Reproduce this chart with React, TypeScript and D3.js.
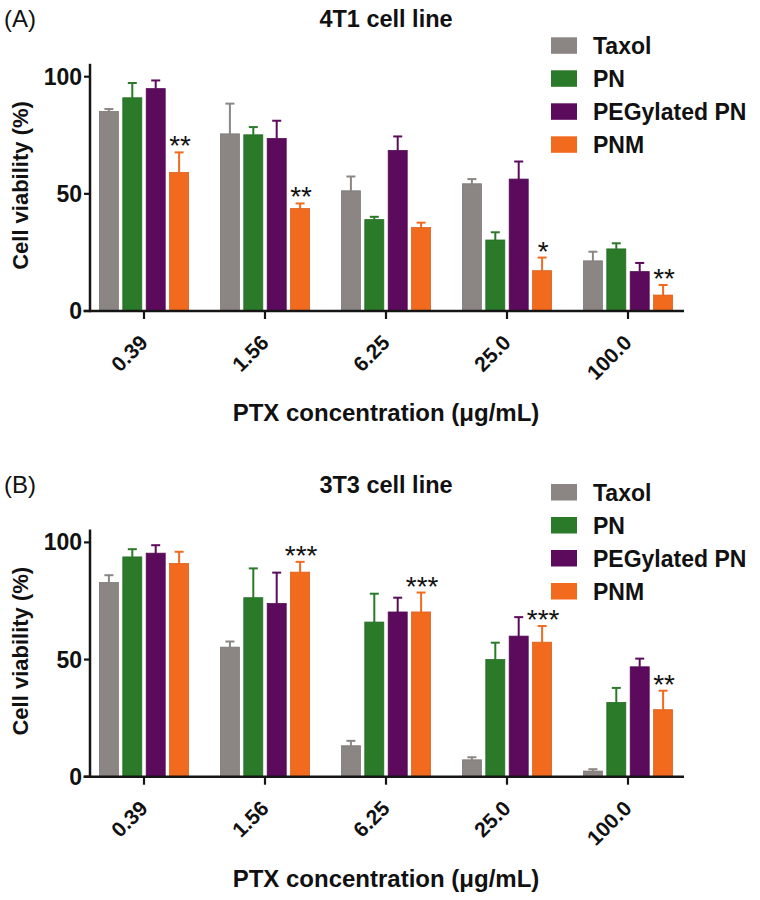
import React from "react";
import * as d3 from "d3";

const concentrations = ["0.39", "1.56", "6.25", "25.0", "100.0"];
const seriesNames = ["Taxol", "PN", "PEGylated PN", "PNM"];
const seriesColors = ["#8b8683", "#2a7a2a", "#5c0a5c", "#f26a1e"];

// 4T1 cell line
const t1Taxol = [85.2, 75.6, 51.3, 54.3, 21.4];
const t1TaxolSd = [1.0, 12.9, 6.1, 2.0, 3.9];
const t1PN = [91.0, 75.2, 39.0, 30.3, 26.5];
const t1PNSd = [6.3, 3.3, 1.2, 3.3, 2.4];
const t1PEG = [94.9, 73.6, 68.5, 56.3, 16.8];
const t1PEGSd = [3.5, 7.6, 6.0, 7.5, 3.7];
const t1PNM = [59.1, 43.7, 35.6, 17.2, 6.8];
const t1PNMSd = [8.6, 2.2, 2.1, 5.6, 4.3];
const t1Sig = ["**", "**", "", "*", "**"];

// 3T3 cell line
const t3Taxol = [82.9, 55.3, 13.2, 7.2, 2.4];
const t3TaxolSd = [3.1, 2.4, 2.1, 1.1, 0.8];
const t3PN = [93.8, 76.4, 66.0, 50.0, 31.7];
const t3PNSd = [3.3, 12.5, 12.1, 7.2, 6.2];
const t3PEG = [95.4, 73.9, 70.3, 60.0, 46.9];
const t3PEGSd = [3.4, 13.2, 6.1, 8.1, 3.5];
const t3PNM = [91.0, 87.3, 70.3, 57.4, 28.6];
const t3PNMSd = [5.0, 4.4, 8.3, 6.9, 8.1];
const t3Sig = ["", "***", "***", "***", "**"];

const yTicks = [0, 50, 100];

const FONT = "'Liberation Sans', Arial, Helvetica, sans-serif";

type PanelProps = {
  oy: number;
  letter: string;
  title: string;
  means: number[][];
  sds: number[][];
  sig: string[];
  legendDy: number;
};

function Panel({ oy, letter, title, means, sds, sig, legendDy }: PanelProps) {
  const y0 = 311 + oy;
  const y100 = 76.7 + oy;
  const y = d3.scaleLinear().domain([0, 100]).range([y0, y100]);
  const x = d3.scaleBand<string>().domain(concentrations).range([83.5, 688.5]).padding(0);
  const bw = x.bandwidth();
  const inner = d3
    .scaleBand<string>()
    .domain(seriesNames)
    .range([bw / 2 - 44.6, bw / 2 + 44.6])
    .paddingInner(0.188)
    .paddingOuter(0);
  const barW = inner.bandwidth();
  const axisTop = y(105.5);
  const axisColor = "#151515";

  return (
    <g>
      <text x={4} y={oy + 27} fontFamily={FONT} fontSize={24} fill="#111">
        {letter}
      </text>
      <text x={386} y={oy + 27} textAnchor="middle" fontFamily={FONT} fontSize={23.5} fontWeight="bold" fill="#111">
        {title}
      </text>

      {/* bars */}
      {concentrations.map((c, gi) =>
        seriesNames.map((s, si) => {
          const v = means[si][gi];
          const e = sds[si][gi];
          const bx = (x(c) as number) + (inner(s) as number);
          const cx = bx + barW / 2;
          const col = seriesColors[si];
          return (
            <g key={c + s}>
              <line x1={cx} x2={cx} y1={y(v)} y2={y(v + e)} stroke={col} strokeWidth={2} />
              <line x1={cx - 4.5} x2={cx + 4.5} y1={y(v + e)} y2={y(v + e)} stroke={col} strokeWidth={2} />
              <rect x={bx} y={y(v)} width={barW} height={y0 - y(v)} fill={col} stroke={d3.color(col)!.darker(0.3).toString()} strokeWidth={0.8} />
            </g>
          );
        })
      )}

      {/* significance */}
      {concentrations.map((c, gi) => {
        if (!sig[gi]) return null;
        const si = 3;
        const bx = (x(c) as number) + (inner(seriesNames[si]) as number);
        const top = y(means[si][gi] + sds[si][gi]);
        return (
          <text key={"sig" + c} x={bx + barW / 2 + 1} y={top + 3} textAnchor="middle" fontFamily={FONT} fontSize={28} fill="#111">
            {sig[gi]}
          </text>
        );
      })}

      {/* axes */}
      <line x1={90} x2={90} y1={axisTop} y2={y0 + 1.2} stroke={axisColor} strokeWidth={2.5} />
      <line x1={83.5} x2={684} y1={y0} y2={y0} stroke={axisColor} strokeWidth={2.5} />
      {yTicks.map((t) => (
        <g key={"yt" + t}>
          <line x1={84} x2={90} y1={y(t)} y2={y(t)} stroke={axisColor} strokeWidth={2.2} />
          <text x={82} y={y(t)} dy="0.35em" textAnchor="end" fontFamily={FONT} fontSize={23} fontWeight="bold" fill="#111">
            {t}
          </text>
        </g>
      ))}
      {concentrations.map((c) => {
        const cx = (x(c) as number) + bw / 2;
        return (
          <g key={"xt" + c}>
            <line x1={cx} x2={cx} y1={y0} y2={y0 + 8} stroke={axisColor} strokeWidth={2.2} />
            <text
              transform={`translate(${cx + 5},${y0 + 33}) rotate(-45)`}
              textAnchor="end"
              fontFamily={FONT}
              fontSize={21}
              fontWeight="bold"
              fill="#111"
            >
              {c}
            </text>
          </g>
        );
      })}
      <text x={386} y={oy + 421} textAnchor="middle" fontFamily={FONT} fontSize={24} fontWeight="bold" fill="#111">
        PTX concentration (μg/mL)
      </text>
      <text
        transform={`translate(28,${oy + 185.5}) rotate(-90)`}
        textAnchor="middle"
        fontFamily={FONT}
        fontSize={22}
        fontWeight="bold"
        fill="#111"
      >
        Cell viability (%)
      </text>

      {/* legend */}
      {seriesNames.map((s, si) => {
        const ly = oy + legendDy + 37.3 + si * 33;
        return (
          <g key={"lg" + s}>
            <rect x={551} y={ly} width={26} height={16.5} fill={seriesColors[si]} />
            <text x={593} y={ly + 16.5} fontFamily={FONT} fontSize={23} fontWeight="bold" fill="#111">
              {s}
            </text>
          </g>
        );
      })}
    </g>
  );
}

export default function App() {
  return (
    <svg width={760} height={900} style={{ position: "absolute", left: 0, top: 0, background: "#fff" }}>
      <rect width={760} height={900} fill="#fff" />
      <Panel
        oy={0}
        letter="(A)"
        title="4T1 cell line"
        means={[t1Taxol, t1PN, t1PEG, t1PNM]}
        sds={[t1TaxolSd, t1PNSd, t1PEGSd, t1PNMSd]}
        sig={t1Sig}
        legendDy={0}
      />
      <Panel
        oy={465.7}
        letter="(B)"
        title="3T3 cell line"
        means={[t3Taxol, t3PN, t3PEG, t3PNM]}
        sds={[t3TaxolSd, t3PNSd, t3PEGSd, t3PNMSd]}
        sig={t3Sig}
        legendDy={-19}
      />
    </svg>
  );
}
